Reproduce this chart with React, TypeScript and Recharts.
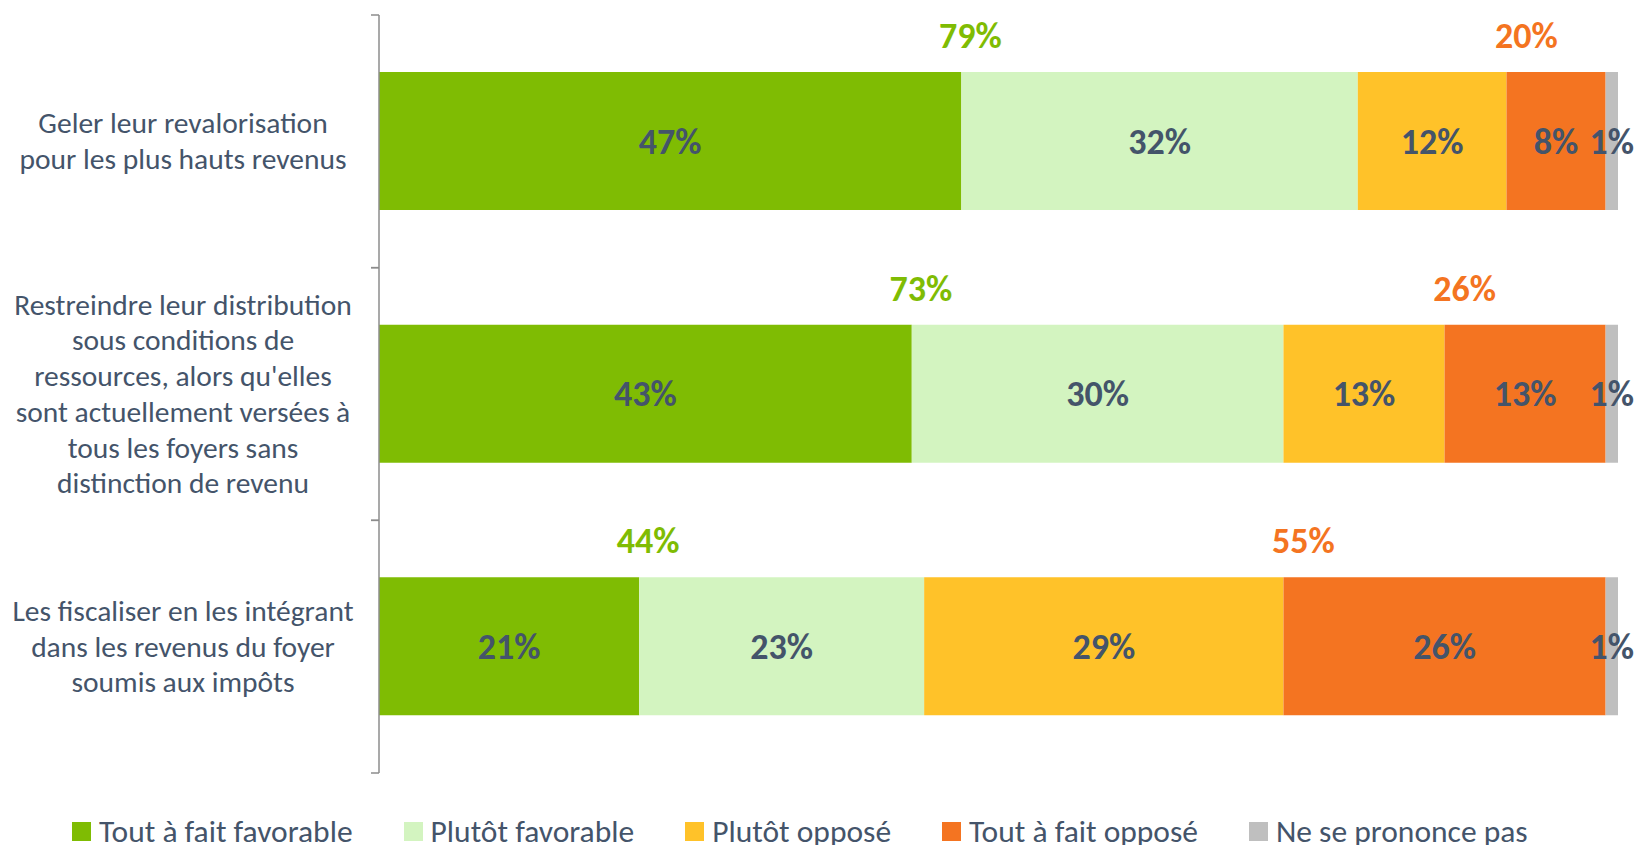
import React from 'react';
import { BarChart, Bar, XAxis, YAxis, LabelList } from 'recharts';

// questions (un tableau de lignes par catégorie)
const categories = [
  ['Geler leur revalorisation', 'pour les plus hauts revenus'],
  ['Restreindre leur distribution', 'sous conditions de', "ressources, alors qu'elles", 'sont actuellement versées à', 'tous les foyers sans', 'distinction de revenu'],
  ['Les fiscaliser en les intégrant', 'dans les revenus du foyer', 'soumis aux impôts'],
];

const toutFavorable = [47, 43, 21];
const plutotFavorable = [32, 30, 23];
const plutotOppose = [12, 13, 29];
const toutOppose = [8, 13, 26];
const nsp = [1, 1, 1];
const totalFavorable = [79, 73, 44];
const totalOppose = [20, 26, 55];

const series = [
  { key: 'toutFavorable', name: 'Tout à fait favorable', color: '#7FBC03' },
  { key: 'plutotFavorable', name: 'Plutôt favorable', color: '#D3F4C0' },
  { key: 'plutotOppose', name: 'Plutôt opposé', color: '#FFC229' },
  { key: 'toutOppose', name: 'Tout à fait opposé', color: '#F47421' },
  { key: 'nsp', name: 'Ne se prononce pas', color: '#BFBFBF' },
];

const data = categories.map((lignes, i) => ({
  id: String(i),
  lignes,
  toutFavorable: toutFavorable[i],
  plutotFavorable: plutotFavorable[i],
  plutotOppose: plutotOppose[i],
  toutOppose: toutOppose[i],
  nsp: nsp[i],
  totalFavorable: totalFavorable[i],
  totalOppose: totalOppose[i],
}));

const FONT = 'Carlito, Lato, "Open Sans", sans-serif';
const TEXTE = '#44546A';
const AXE = '#8C8C8C';

const W = 1637;
const H = 845;
const AXE_X = 379;
const MARGE = { top: 15, right: 19, bottom: 72, left: 0 };
const demiBande = (H - MARGE.top - MARGE.bottom) / categories.length / 2;

const TickCategorie = (props: any) => {
  const { y, payload } = props;
  const lignes: string[] = categories[Number(payload.value)];
  const pas = 35.7;
  const debut = -((lignes.length - 1) / 2) * pas;
  return (
    <g>
      <line x1={AXE_X - 8} x2={AXE_X} y1={y - demiBande} y2={y - demiBande} stroke={AXE} strokeWidth={1.5} />
      <line x1={AXE_X - 8} x2={AXE_X} y1={y + demiBande} y2={y + demiBande} stroke={AXE} strokeWidth={1.5} />
      <text x={183} y={y} textAnchor="middle" fill={TEXTE} fontFamily={FONT} fontSize={29.5}>
        {lignes.map((l, i) => (
          <tspan key={i} x={183} y={y + debut + i * pas} dominantBaseline="central">{l}</tspan>
        ))}
      </text>
    </g>
  );
};

const etiquetteTotal = (couleur: string, decalage: number, debutSegment: boolean) => (props: any) => {
  const { x, y, width, value } = props;
  const cx = debutSegment ? x + decalage : x + width + decalage;
  return (
    <text x={cx} y={y - 36} textAnchor="middle" dominantBaseline="central" fill={couleur}
      fontFamily={FONT} fontWeight={700} fontSize={36}>
      {value}%
    </text>
  );
};

const Legende = () => (
  <div style={{ position: 'absolute', left: 0, top: 816, width: W, display: 'flex', alignItems: 'center', paddingLeft: 72, gap: 51, fontFamily: FONT, fontSize: 31.5, color: TEXTE, whiteSpace: 'nowrap' }}>
    {series.map(s => (
      <div key={s.key} style={{ display: 'flex', alignItems: 'center', gap: 8 }}>
        <span style={{ width: 19, height: 19, backgroundColor: s.color, display: 'inline-block' }}></span>
        <span style={{ lineHeight: '30px' }}>{s.name}</span>
      </div>
    ))}
  </div>
);

export default function App() {
  return (
    <div style={{ position: 'relative', width: W, height: H, background: '#fff', overflow: 'hidden' }}>
      <style>{`body{margin:0}`}</style>
      <BarChart width={W} height={H} data={data} layout="vertical" margin={MARGE} barSize={138}>
        <XAxis type="number" domain={[0, 100]} hide />
        <YAxis type="category" dataKey="id" width={AXE_X} axisLine={{ stroke: AXE, strokeWidth: 1.5 }}
          tickLine={false} tick={<TickCategorie />} interval={0} />
        {series.map(s => (
          <Bar key={s.key} dataKey={s.key} name={s.name} stackId="a" fill={s.color} isAnimationActive={false}>
            <LabelList dataKey={s.key} position="center" formatter={(v: any) => `${v}%`}
              style={{ fill: TEXTE, fontFamily: FONT, fontWeight: 700, fontSize: 36 }} />
            {s.key === 'toutFavorable' && (
              <LabelList dataKey="totalFavorable" content={etiquetteTotal('#7FBC03', 9, false)} />
            )}
            {s.key === 'toutOppose' && (
              <LabelList dataKey="totalOppose" content={etiquetteTotal('#F47421', 20, true)} />
            )}
          </Bar>
        ))}
      </BarChart>
      <Legende />
    </div>
  );
}
